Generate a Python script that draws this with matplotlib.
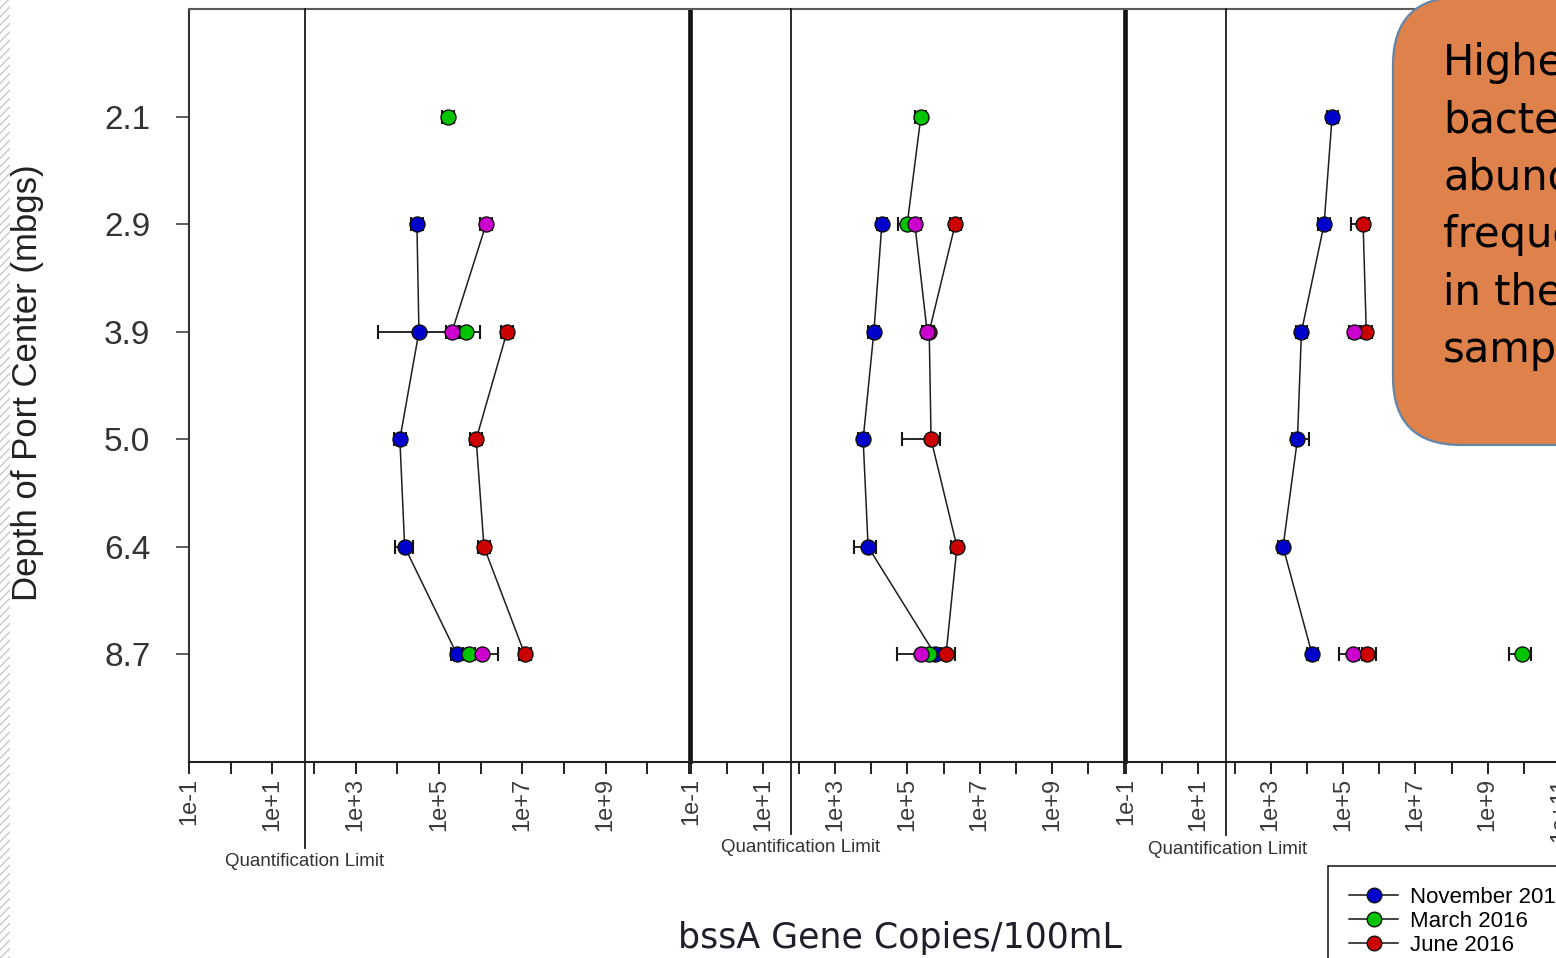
import numpy as np
import matplotlib
matplotlib.use("Agg")
import matplotlib.pyplot as plt
import matplotlib.transforms as mtransforms
from matplotlib.patches import FancyBboxPatch, Rectangle
from matplotlib.lines import Line2D
from matplotlib.ticker import NullLocator

plt.rcParams["font.family"] = ["Liberation Sans", "DejaVu Sans"]

nan = np.nan

# ---- data -----------------------------------------------------------------
depth_labels = ["2.1", "2.9", "3.9", "5.0", "6.4", "8.7"]
campaigns = ["November 2015", "March 2016", "June 2016", "September 2016"]
colors = ["#0000cd", "#00c400", "#cc0000", "#cc00cc"]

quant_limit = 60.0  # bssA copies/100 mL

# Panel 1 (rows: campaigns, columns: depths) - mean, lower and upper bar ends
p1_mean = [[nan, 2.95e4, 3.3e4, 1.15e4, 1.5e4, 2.7e5],
           [1.66e5, nan, 4.5e5, nan, nan, 5.2e5],
           [nan, nan, 4.3e6, 7.8e5, 1.2e6, 1.15e7],
           [nan, 1.35e6, 2.05e5, nan, nan, 1.07e6]]
p1_lo = [[nan, 2.1e4, 3.5e3, 8.2e3, 8.7e3, 1.9e5],
         [1.2e5, nan, 2.1e5, nan, nan, 3.7e5],
         [nan, nan, 3.0e6, 5.5e5, 8.5e5, 8.1e6],
         [nan, 9.5e5, 1.45e5, nan, nan, 4.5e5]]
p1_hi = [[nan, 4.2e4, 3.2e5, 1.6e4, 2.4e4, 3.8e5],
         [2.3e5, nan, 9.5e5, nan, nan, 7.3e5],
         [nan, nan, 6.1e6, 1.1e6, 1.7e6, 1.6e7],
         [nan, 1.9e6, 2.9e5, nan, nan, 2.6e6]]

# Panel 2
p2_mean = [[nan, 1.95e4, 1.17e4, 5.9e3, 8.1e3, 5.8e5],
           [2.35e5, 9.8e4, nan, nan, nan, 4.0e5],
           [nan, 2.1e6, 4.0e5, 4.5e5, 2.35e6, 1.17e6],
           [nan, 1.6e5, 3.5e5, nan, nan, 2.35e5]]
p2_lo = [[nan, 1.4e4, 8.3e3, 4.2e3, 3.3e3, 4.1e5],
         [1.65e5, 5.5e4, nan, nan, nan, 2.8e5],
         [nan, 1.5e6, 2.8e5, 7.1e4, 1.65e6, 8.3e5],
         [nan, 1.15e5, 2.5e5, nan, nan, 5.1e4]]
p2_hi = [[nan, 2.75e4, 1.65e4, 8.3e3, 1.3e4, 8.2e5],
         [3.3e5, 1.4e5, nan, nan, nan, 5.6e5],
         [nan, 3.0e6, 5.6e5, 7.9e5, 3.3e6, 2.1e6],
         [nan, 2.3e5, 4.9e5, nan, nan, 3.3e5]]

# Panel 3
p3_mean = [[5.0e4, 3.0e4, 7.1e3, 5.5e3, 2.2e3, 1.4e4],
           [nan, nan, nan, nan, nan, 9.1e9],
           [nan, 3.6e5, 4.4e5, nan, nan, 4.7e5],
           [nan, nan, 2.05e5, nan, nan, 1.9e5]]
p3_lo = [[3.5e4, 2.1e4, 5.0e3, 3.9e3, 1.6e3, 1.0e4],
         [nan, nan, nan, nan, nan, 4.0e9],
         [nan, 1.7e5, 3.1e5, nan, nan, 3.3e5],
         [nan, nan, 1.45e5, nan, nan, 7.8e4]]
p3_hi = [[7.1e4, 4.3e4, 1.0e4, 1.17e4, 3.1e3, 2.0e4],
         [nan, nan, nan, nan, nan, 1.6e10],
         [nan, 5.1e5, 6.2e5, nan, nan, 8.3e5],
         [nan, nan, 2.9e5, nan, nan, 2.7e5]]

callout_lines = ["Higher", "bacterial", "abundance", "frequently", "in the", "samples"]

# ---- figure ---------------------------------------------------------------
W, H = 1556, 958
fig = plt.figure(figsize=(W / 100, H / 100), dpi=100)
fig.patch.set_facecolor("white")

y_top, y_bot = 9, 762


def panel_rect(x0, x1):
    return [x0 / W, (H - y_bot) / H, (x1 - x0) / W, (y_bot - y_top) / H]


panels = [
    dict(rect=panel_rect(189, 689), mean=p1_mean, lo=p1_lo, hi=p1_hi,
         ql_bottom=848, ql_text=861, ql_dx=0, last_label=False),
    dict(rect=panel_rect(691, 1124), mean=p2_mean, lo=p2_lo, hi=p2_hi,
         ql_bottom=834, ql_text=848, ql_dx=9, last_label=False),
    dict(rect=panel_rect(1126, 1560), mean=p3_mean, lo=p3_lo, hi=p3_hi,
         ql_bottom=835, ql_text=850, ql_dx=1, last_label=True),
]

ypos = np.arange(1, len(depth_labels) + 1)
exps = np.arange(-1, 12)

axes = []
for k, pn in enumerate(panels):
    ax = fig.add_axes(pn["rect"])
    axes.append(ax)
    ax.set_xscale("log")
    ax.set_xlim(1e-1, 1e11)
    ax.set_ylim(7, 0)

    mean = np.array(pn["mean"], dtype=float)
    lo = np.array(pn["lo"], dtype=float)
    hi = np.array(pn["hi"], dtype=float)

    for i in range(len(campaigns)):
        m = mean[i]
        ok = ~np.isnan(m)
        # black connecting line between adjacent sampled depths
        ax.plot(m, ypos, "-", color="#1e1e1e", lw=1.1, zorder=2)
        ax.errorbar(m[ok], ypos[ok], xerr=[m[ok] - lo[i][ok], hi[i][ok] - m[ok]],
                    fmt="none", ecolor="#151515", elinewidth=1.3,
                    capsize=5, capthick=1.5, zorder=3)
        ax.plot(m[ok], ypos[ok], "o", ms=10.8, mfc=colors[i], mec="#111111",
                mew=1.0, zorder=4 + i)

    # quantification limit marker line, running below the axis
    trans = mtransforms.blended_transform_factory(ax.transData, ax.transAxes)
    ybot_ax = -(pn["ql_bottom"] - y_bot) / (y_bot - y_top)
    ax.plot([quant_limit, quant_limit], [1, ybot_ax], color="#1a1a1a", lw=1.3,
            transform=trans, clip_on=False, zorder=5)
    ytxt_ax = -(pn["ql_text"] - y_bot) / (y_bot - y_top)
    txt_trans = trans + mtransforms.ScaledTranslation(pn["ql_dx"] / 100, 0,
                                                      fig.dpi_scale_trans)
    ax.text(quant_limit, ytxt_ax, "Quantification Limit", transform=txt_trans,
            ha="center", va="center", fontsize=13.5, color="#333333")

    # decade ticks, every second one labelled
    labels = []
    for e in exps:
        show = (e + 1) % 2 == 0 and (e < 11 or pn["last_label"])
        labels.append(f"1e{e:+d}" if show else "")
    ax.set_xticks(10.0 ** exps, labels)
    ax.xaxis.set_minor_locator(NullLocator())
    ax.tick_params(axis="x", which="major", direction="out", length=8.5,
                   width=1.4, color="#222222", labelsize=17, labelrotation=90,
                   labelcolor="#3a3a3a", pad=3)

    for side in ("left", "right"):
        ax.spines[side].set_linewidth(1.9)
        ax.spines[side].set_color("#111111")
    ax.spines["top"].set_linewidth(1.5)
    ax.spines["top"].set_color("#5a5a5a")
    ax.spines["bottom"].set_linewidth(1.5)
    ax.spines["bottom"].set_color("#222222")

    if k == 0:
        ax.set_yticks(ypos, depth_labels)
        ax.spines["left"].set_linewidth(1.5)
        ax.spines["left"].set_color("#333333")
        ax.tick_params(axis="y", direction="out", length=9.4, width=1.1,
                       color="#333333", labelsize=24, labelcolor="#333333",
                       pad=18.5)
        for t in ax.get_yticklabels():
            t.set_fontfamily(["Liberation Sans Narrow", "Liberation Sans"])
    else:
        ax.set_yticks(ypos)
        ax.tick_params(axis="y", left=False, labelleft=False)

# axis titles
fig.text(28 / W, 1 - 383 / H, "Depth of Port Center (mbgs)", rotation=90,
         ha="center", va="center", fontsize=25, color="#222222")
fig.text(900 / W, 1 - 938 / H, "bssA Gene Copies/100mL", ha="center",
         va="center", fontsize=25, color="#1f1f2a", family="DejaVu Sans")

# legend
handles = [Line2D([], [], color="#111111", lw=1.1, marker="o", ms=10.5,
                  mfc=c, mec="#111111", mew=1.0) for c in colors]
leg = fig.legend(handles, campaigns, loc="upper left",
                 bbox_to_anchor=(1328 / W, 1 - 866 / H), borderaxespad=0,
                 fontsize=16, frameon=True, fancybox=False, framealpha=1,
                 edgecolor="#111111", handlelength=2.2, handletextpad=0.55,
                 labelspacing=0.13, borderpad=0.95)
leg.get_frame().set_linewidth(1.1)

# callout box
box = FancyBboxPatch((1393, H - 445), 400, 445 + 3, boxstyle="round,pad=0,rounding_size=68",
                     transform=mtransforms.IdentityTransform(), facecolor="#de814a",
                     edgecolor="#6585a8", lw=1.6, zorder=10)
fig.add_artist(box)
for j, line in enumerate(callout_lines):
    ybase = 75 + 57.4 * j
    fig.text(1443 / W, 1 - ybase / H, line, ha="left", va="baseline",
             fontsize=30, color="black", family="DejaVu Sans", zorder=11)

# hatched strip at the left edge
strip = Rectangle((0, 0), 10 / W, 1, transform=fig.transFigure, facecolor="white",
                  edgecolor="#c9c9c9", hatch="////", lw=0, zorder=0)
fig.add_artist(strip)

fig.savefig("out.png", dpi=100)
